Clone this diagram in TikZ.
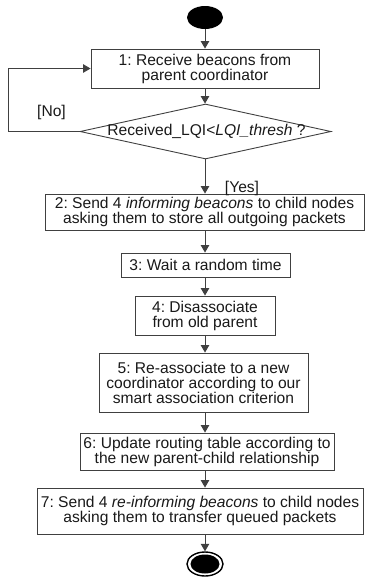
\documentclass[tikz,border=0pt]{standalone}
\usepackage{fontspec}
\setmainfont{Liberation Sans}
\usetikzlibrary{shapes.geometric,arrows.meta}
\frenchspacing
\begin{document}
\begin{tikzpicture}[x=1pt,y=-1pt,
  every node/.style={font=\fontsize{15.6}{15}\selectfont, text=black!90},
  box/.style={draw=black!75, line width=0.9pt, inner sep=0pt, align=center},
  dia/.style={diamond, draw=black!75, line width=0.9pt, inner sep=0pt, minimum width=251pt, minimum height=55pt},
  arr/.style={draw=black!75, line width=1pt, -{Triangle[width=8.5pt,length=7.5pt]}},
  lbl/.style={inner sep=0pt}]
\useasboundingbox (0,0) rectangle (366,582);
% start
\node[ellipse, fill=black, minimum width=36pt, minimum height=23pt, inner sep=0pt] (s) at (205,17.5) {};
% boxes
\node[box, minimum width=228pt, minimum height=39pt] (b1) at (205,68.5) {1: Receive beacons from\\parent coordinator};
\node[dia] (d) at (205.5,131.5) {};
\node[lbl] (dt) at (206.5,131.5) {Received\_LQI<\textit{LQI\_thresh} ?};
\node[box, minimum width=319pt, minimum height=36pt] (b2) at (204.5,212) {2: Send 4 \textit{informing beacons} to child nodes\\asking them to store all outgoing packets};
\node[box, minimum width=169pt, minimum height=24pt] (b3) at (205.5,265) {3: Wait a random time};
\node[box, minimum width=140pt, minimum height=39pt] (b4) at (205,315.5) {4: Disassociate\\from old parent};
\node[box, minimum width=209pt, minimum height=59pt] (b5) at (203.5,382.5) {5: Re-associate to a new\\coordinator according to our\\smart association criterion};
\node[box, minimum width=254pt, minimum height=37pt] (b6) at (207,451.5) {6: Update routing table according to\\the new parent-child relationship};
\node[box, minimum width=326pt, minimum height=46pt] (b7) at (200,511) {7: Send 4 \textit{re-informing beacons} to child nodes\\asking them to transfer queued packets};
% end
\node[ellipse, draw=black, line width=1.4pt, minimum width=36pt, minimum height=24pt, inner sep=0pt] (e) at (205,564) {};
\node[ellipse, fill=black, minimum width=29pt, minimum height=19pt, inner sep=0pt] (ei) at (e) {};
% labels
\node[lbl] (no) at (51.5,112) {[No]};
\node[lbl] (yes) at (242,188) {[Yes]};
% connectors
\draw[arr] (s.south) -- (s.south |- b1.north);
\draw[arr] (s.south |- b1.south) -- (s.south |- d.north);
\draw[arr] (s.south |- d.south) -- (s.south |- b2.north);
\draw[arr] (s.south |- b2.south) -- (s.south |- b3.north);
\draw[arr] (s.south |- b3.south) -- (s.south |- b4.north);
\draw[arr] (s.south |- b4.south) -- (s.south |- b5.north);
\draw[arr] (s.south |- b5.south) -- (s.south |- b6.north);
\draw[arr] (s.south |- b6.south) -- (s.south |- b7.north);
\draw[arr] (s.south |- b7.south) -- (e.north);
\draw[arr] (d.west) -- ([xshift=-71pt]d.west) |- (b1.west);
\end{tikzpicture}
\end{document}
